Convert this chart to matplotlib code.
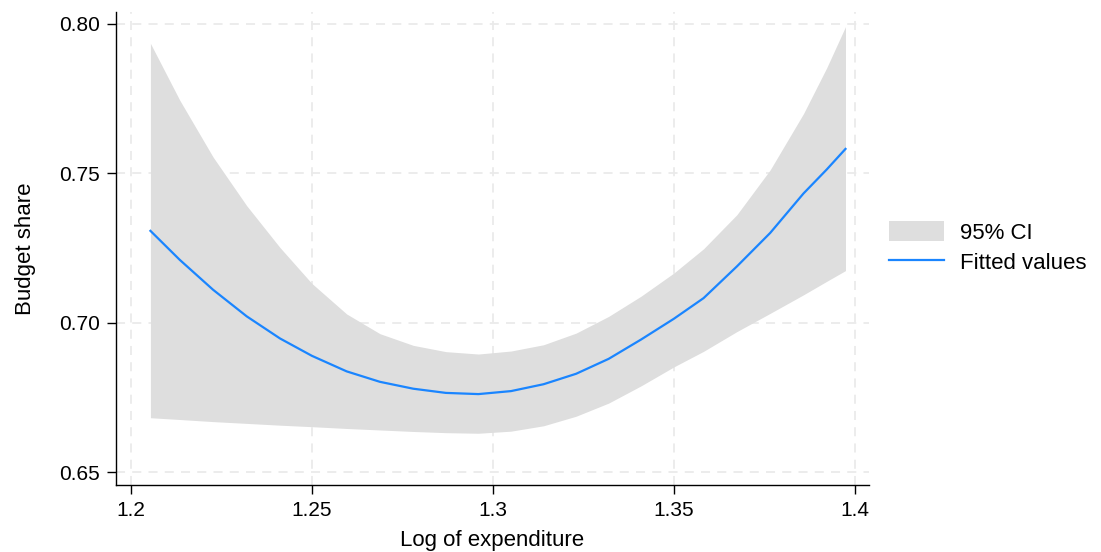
import numpy as np
import matplotlib
matplotlib.use("Agg")
import matplotlib.pyplot as plt

plt.rcParams['font.family'] = ['Liberation Sans', 'DejaVu Sans']

# values
log_exp = [1.2054, 1.2135, 1.2227, 1.2320, 1.2412, 1.2500, 1.2596, 1.2688,
           1.2780, 1.2870, 1.2960, 1.3050, 1.3140, 1.3230, 1.3320, 1.3410,
           1.3500, 1.3582, 1.3674, 1.3766, 1.3858, 1.3922, 1.3974]
fitted = [0.7308, 0.7211, 0.7111, 0.7022, 0.6948, 0.6890, 0.6838, 0.6803,
          0.6780, 0.6766, 0.6762, 0.6772, 0.6795, 0.6830, 0.6880, 0.6945,
          0.7014, 0.7083, 0.7189, 0.7301, 0.7433, 0.7513, 0.7582]
ci_upper = [0.7935, 0.7745, 0.7555, 0.7392, 0.7252, 0.7132, 0.7030, 0.6964,
            0.6925, 0.6904, 0.6896, 0.6906, 0.6927, 0.6966, 0.7022, 0.7090,
            0.7167, 0.7248, 0.7362, 0.7512, 0.7700, 0.7853, 0.7991]
ci_lower = [0.6683, 0.6677, 0.6670, 0.6664, 0.6658, 0.6653, 0.6647, 0.6642,
            0.6637, 0.6633, 0.6631, 0.6638, 0.6656, 0.6688, 0.6732, 0.6790,
            0.6853, 0.6905, 0.6971, 0.7032, 0.7094, 0.7139, 0.7175]

xticks = [1.2, 1.25, 1.3, 1.35, 1.4]
xticklabels = ['1.2', '1.25', '1.3', '1.35', '1.4']
yticks = [0.65, 0.70, 0.75, 0.80]
yticklabels = ['0.65', '0.70', '0.75', '0.80']

fig = plt.figure(figsize=(11.01, 5.52), dpi=100)
ax = fig.add_axes([0.1054, 0.1214, 0.6839, 0.8569])

ax.fill_between(log_exp, ci_lower, ci_upper, color='#dedede', linewidth=0,
                label='95% CI')
ax.plot(log_exp, fitted, color='#1a85ff', linewidth=1.6, label='Fitted values',
        solid_joinstyle='round')

ax.set_xlim(1.1959, 1.4039)
ax.set_ylim(0.6458, 0.8040)
ax.set_xticks(xticks)
ax.set_xticklabels(xticklabels)
ax.set_yticks(yticks)
ax.set_yticklabels(yticklabels)

ax.grid(True, color='#eaeaea', linestyle=(0, (5, 4)), linewidth=1.3)
ax.set_axisbelow(True)
for s in ['top', 'right']:
    ax.spines[s].set_visible(False)
for s in ['left', 'bottom']:
    ax.spines[s].set_linewidth(1.0)
ax.tick_params(direction='out', length=6.5, width=1, labelsize=15, pad=5)

ax.set_xlabel('Log of expenditure', fontsize=16, labelpad=7)
ax.set_ylabel('Budget share', fontsize=16, labelpad=17)

ax.legend(loc='center left', bbox_to_anchor=(1.0, 0.502), frameon=False,
          fontsize=16, handlelength=2.48, handleheight=0.97,
          handletextpad=0.72, labelspacing=0.35)

fig.savefig('out.png', dpi=100)
